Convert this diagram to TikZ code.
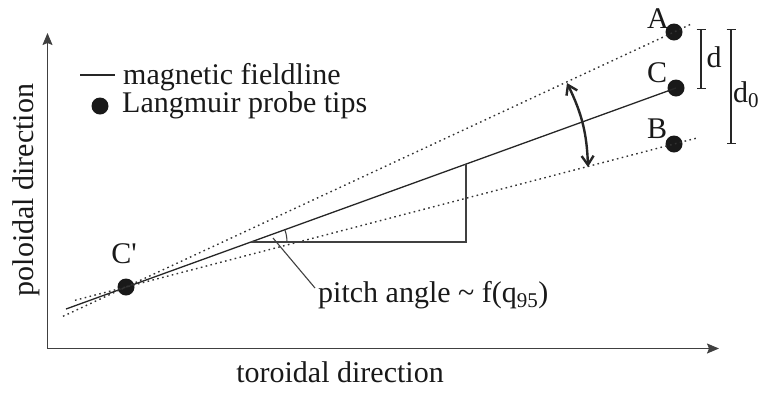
\documentclass[tikz,border=0pt]{standalone}
\usepackage{fontspec}
\setmainfont{Liberation Serif}
\usetikzlibrary{arrows.meta,calc}
\begin{document}
\begin{tikzpicture}[x=1pt,y=-1pt,
  lbl/.style={font=\fontsize{30}{36}\selectfont, inner sep=0pt, text=black!90},
  probe/.style={circle, fill=black!90, minimum size=17pt, inner sep=0pt},
  axis/.style={line width=1.3pt, draw=black!75, -{Stealth[length=12pt,width=10pt,inset=2pt]}},
  field/.style={line width=1.3pt, draw=black!85},
  guide/.style={line width=1.4pt, draw=black!80, dash pattern=on 1.6pt off 3.4pt},
  thin/.style={line width=1.1pt, draw=black!75},
  bar/.style={line width=1.2pt, draw=black!85, {Bar[width=9pt]}-{Bar[width=9pt]}},
  swing/.style={line width=2.4pt, draw=black!85, {Straight Barb[length=9pt,width=12pt]}-{Straight Barb[length=9pt,width=12pt]}}]
\useasboundingbox (0,0) rectangle (766,392);
% axes
\coordinate (O) at (47.5,348.5);
\coordinate (Ytip) at (47.5,33);
\coordinate (Xtip) at (719,348.5);
\draw[axis] (O) -- (Ytip);
\draw[axis] (O) -- (Xtip);
\node[lbl, anchor=base] (xl) at (340,382) {toroidal direction};
\node[lbl, anchor=base, rotate=90] (yl) at (33,190) {poloidal direction};
% probes
\node[probe] (Cp) at (126,287) {};
\node[probe] (A) at (674,32) {};
\node[probe] (C) at (676,88) {};
\node[probe] (B) at (674,144) {};
% field lines
\coordinate (Sl) at (66,309);
\coordinate (Al) at (63,316.3);
\coordinate (Ar) at (693,23.2);
\coordinate (Bl) at (75,300.3);
\coordinate (Br) at (697,138);
\draw[field] (Sl) -- (C.center);
\draw[guide] (Al) -- (Ar);
\draw[guide] (Bl) -- (Br);
% pitch triangle
\coordinate (P) at (251,242);
\coordinate (Q) at (466,242);
\coordinate (R) at (466,164);
\draw[thin] (P) -- (Q) -- (R);
\draw[thin] ($(P)+(36,0)$) arc[start angle=0, end angle=-20, radius=36];
\coordinate (ptr1) at (273,238);
\coordinate (ptr2) at (315,288);
\draw[thin] (ptr1) -- (ptr2);
\node[lbl, anchor=base west] (pitch) at (318,302) {pitch angle {\char"7E} f(q\textsubscript{95})};
% swing arrow
\coordinate (s1) at (567,83);
\coordinate (s2) at (588,167);
\draw[swing] (s1) to[bend left=12] (s2);
% labels
\node[lbl, anchor=base] (la) at (658,28) {A};
\node[lbl, anchor=base] (lc) at (657,82) {C};
\node[lbl, anchor=base] (lb) at (657,138) {B};
\node[lbl, anchor=base] (lcp) at (124,263) {C\textquotesingle};
% distance bars
\coordinate (d1) at (701,29);
\coordinate (d2) at (701,89);
\coordinate (e1) at (731,29);
\coordinate (e2) at (731,144);
\draw[bar] (d1) -- (d2);
\draw[bar] (e1) -- (e2);
\node[lbl, anchor=base] (ld) at (714,67) {d};
\node[lbl, anchor=base west] (ld0) at (733,102) {d\textsubscript{0}};
% legend
\coordinate (g1) at (80,75);
\coordinate (g2) at (115,75);
\draw[field] (g1) -- (g2);
\node[lbl, anchor=base west] (lg1) at (123,84) {magnetic fieldline};
\node[probe] (gdot) at (100,106) {};
\node[lbl, anchor=base west] (lg2) at (122,112) {Langmuir probe tips};
\end{tikzpicture}
\end{document}
